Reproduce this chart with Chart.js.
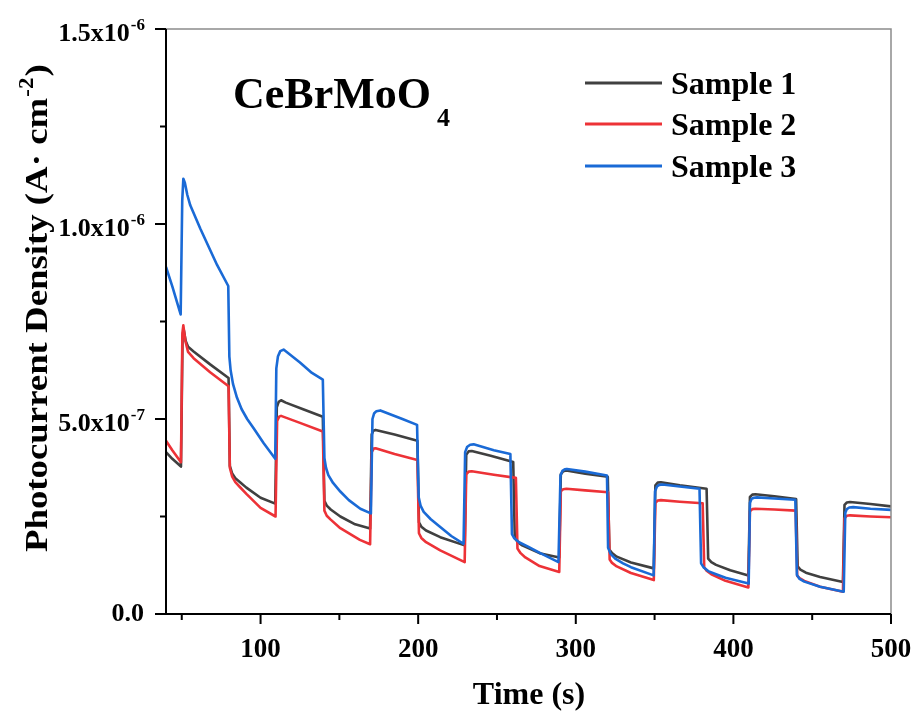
<!DOCTYPE html>
<html>
<head>
<meta charset="utf-8">
<script src="https://cdn.jsdelivr.net/npm/chart.js@4.4.0/dist/chart.umd.min.js"></script>
<style>
  html, body { margin: 0; padding: 0; background: #fff; }
  #wrap { position: relative; width: 916px; height: 715px; }
</style>
</head>
<body>
<div id="wrap"><canvas id="chart"></canvas></div>
<script>
// ======================================================
// CeBrMoO4 photocurrent response, three samples
// values: [time (s), current density in 1e-7 A·cm^-2]
// ======================================================
const sample1 = [
  [40,4.15],[44,3.98],[49.5,3.78],[50.5,7.1],[51.2,7.3],[52.5,7.0],[54,6.85],[57.5,6.73],[68,6.4],[79.7,6.05],
  [80.5,3.8],[82,3.6],[84,3.48],[87,3.38],[91,3.24],[100,2.98],[109.3,2.83],
  [110.3,5.3],[111.5,5.44],[113,5.48],[116,5.42],[127,5.25],[139.5,5.06],
  [140.5,2.9],[142,2.78],[144.5,2.68],[150.6,2.5],[160,2.3],[169.5,2.19],
  [170.5,4.6],[171.5,4.7],[173,4.72],[185,4.6],[199.5,4.44],
  [200.5,2.35],[202,2.24],[205,2.14],[214,1.97],[229.5,1.76],
  [230.5,4.08],[232,4.17],[234,4.18],[246,4.06],[260.3,3.9],
  [261.3,1.95],[263,1.85],[266,1.76],[277,1.56],[289.5,1.45],
  [290.5,3.58],[292,3.66],[294,3.68],[306,3.6],[320.3,3.52],
  [321.3,1.65],[323,1.56],[326,1.47],[335,1.32],[349.5,1.17],
  [350.5,3.3],[352,3.37],[354,3.38],[366,3.3],[383,3.21],
  [384,1.42],[386,1.33],[389,1.26],[398,1.12],[409.5,0.99],
  [410.5,3.0],[412,3.06],[414,3.07],[426,3.02],[439.8,2.95],
  [440.8,1.22],[442.5,1.14],[446,1.06],[455,0.95],[469.5,0.82],
  [470.5,2.8],[472,2.86],[474,2.87],[487,2.82],[500,2.76]
];
const sample2 = [
  [40,4.44],[44,4.2],[49.5,3.89],[50.4,7.2],[51,7.4],[52.3,7.0],[54,6.72],[57.5,6.56],[68,6.2],[79.7,5.84],
  [80.5,3.75],[82,3.52],[84,3.38],[87,3.25],[91,3.08],[100,2.72],[109.5,2.5],
  [110.5,4.95],[111.8,5.06],[113,5.08],[125,4.9],[139.5,4.68],
  [140.5,2.65],[142,2.52],[144.5,2.42],[150.6,2.2],[163,1.9],[169.5,1.79],
  [170.5,4.15],[171.8,4.24],[173,4.25],[185,4.1],[199.5,3.95],
  [200.5,2.07],[202,1.95],[205,1.84],[214,1.63],[229.5,1.33],
  [230.5,3.58],[232,3.65],[234,3.66],[248,3.57],[262,3.49],
  [263,1.68],[265,1.56],[268,1.45],[277,1.23],[289.5,1.08],
  [290.5,3.15],[292,3.2],[294,3.21],[306,3.17],[320.5,3.12],
  [321.5,1.4],[323,1.31],[326,1.22],[335,1.05],[349.5,0.87],
  [350.5,2.85],[352,2.91],[354,2.92],[366,2.88],[380.5,2.84],
  [381.5,1.2],[383,1.11],[386,1.02],[395,0.85],[409.5,0.68],
  [410.5,2.63],[412,2.69],[414,2.7],[426,2.68],[439.5,2.65],
  [440.5,0.98],[442,0.92],[445,0.85],[455,0.7],[469.5,0.57],
  [470.5,2.45],[472,2.52],[474,2.53],[487,2.5],[500,2.48]
];
const sample3 = [
  [40,8.9],[44,8.4],[49.3,7.68],[50.3,10.6],[51,11.16],[52,11.05],[53.5,10.75],[55.4,10.48],[61.8,9.88],[72.4,8.95],[79.5,8.41],
  [80.2,6.6],[81,6.25],[82.5,5.9],[85,5.55],[88,5.25],[91.5,5.0],[95.6,4.76],[102,4.38],[109.3,3.98],
  [110,6.3],[111,6.6],[112.5,6.74],[114.6,6.78],[125,6.45],[132.6,6.18],[139.5,6.01],
  [140.5,4.0],[141.5,3.75],[143,3.56],[146,3.36],[150.6,3.14],[156,2.92],[163.3,2.7],[170,2.58],
  [171,5.0],[172,5.14],[173.5,5.2],[176,5.22],[190,5.0],[199.3,4.85],
  [200.3,3.0],[201.5,2.78],[203.5,2.62],[208,2.43],[214,2.23],[221,2.0],[228.8,1.8],
  [229.8,4.15],[231,4.28],[233,4.34],[235.2,4.35],[248,4.2],[258.5,4.1],
  [259.5,2.05],[261,1.94],[264,1.84],[270,1.72],[277.5,1.56],[289,1.33],
  [290.3,3.55],[291.5,3.67],[293,3.71],[294.4,3.72],[306,3.65],[319.8,3.55],
  [320.5,1.7],[322,1.55],[325,1.42],[330,1.3],[335,1.2],[349.4,0.99],
  [350.3,3.15],[351.5,3.27],[353,3.31],[355,3.32],[366,3.27],[378.5,3.21],
  [379.5,1.3],[381,1.2],[384,1.1],[389,1.02],[395,0.93],[409.7,0.78],
  [410.5,2.85],[411.5,2.95],[413,2.98],[415,2.99],[426,2.96],[439.3,2.93],
  [440.3,1.0],[442,0.9],[445,0.83],[455,0.7],[470,0.57],
  [471,2.6],[472,2.69],[473.5,2.73],[476,2.74],[487,2.7],[500,2.67]
];

const seriesNames  = ["Sample 1", "Sample 2", "Sample 3"];
const seriesColors = ["#404040", "#ed3237", "#1a6ad6"];

const xMajorTicks = [100, 200, 300, 400, 500];
const xMinorTicks = [50, 150, 250, 350, 450];
const yMajorTicks = [0, 5e-7, 1e-6, 1.5e-6];
const yMinorTicks = [2.5e-7, 7.5e-7, 1.25e-6];
const yTickLabels = [["0.0", ""], ["5.0x10", "-7"], ["1.0x10", "-6"], ["1.5x10", "-6"]];

const SERIF = '"Liberation Serif", "Times New Roman", serif';

const toPoints = arr => arr.map(([t, v]) => ({ x: t, y: v * 1e-7 }));

// axes, ticks, labels, titles and legend drawn on top of the plot
const decorations = {
  id: "decorations",
  afterDraw(chart) {
    const { ctx, chartArea: a, scales: { x, y } } = chart;
    ctx.save();

    // thin grey top/right frame
    ctx.strokeStyle = "#8c8c8c";
    ctx.lineWidth = 1.5;
    ctx.beginPath();
    ctx.moveTo(a.left, a.top);
    ctx.lineTo(a.right, a.top);
    ctx.lineTo(a.right, a.bottom);
    ctx.stroke();

    // black left/bottom axes
    ctx.strokeStyle = "#000";
    ctx.lineWidth = 2;
    ctx.beginPath();
    ctx.moveTo(a.left, a.top);
    ctx.lineTo(a.left, a.bottom);
    ctx.lineTo(a.right, a.bottom);
    ctx.stroke();

    // x ticks
    ctx.beginPath();
    xMajorTicks.forEach(v => {
      const px = x.getPixelForValue(v);
      ctx.moveTo(px, a.bottom); ctx.lineTo(px, a.bottom + 10);
    });
    xMinorTicks.forEach(v => {
      const px = x.getPixelForValue(v);
      ctx.moveTo(px, a.bottom); ctx.lineTo(px, a.bottom + 6);
    });
    // y ticks
    yMajorTicks.forEach(v => {
      const py = y.getPixelForValue(v);
      ctx.moveTo(a.left, py); ctx.lineTo(a.left - 11, py);
    });
    yMinorTicks.forEach(v => {
      const py = y.getPixelForValue(v);
      ctx.moveTo(a.left, py); ctx.lineTo(a.left - 6, py);
    });
    ctx.stroke();

    ctx.fillStyle = "#000";
    ctx.textBaseline = "alphabetic";

    // x tick labels
    ctx.font = `bold 27px ${SERIF}`;
    ctx.textAlign = "center";
    xMajorTicks.forEach(v => {
      ctx.fillText(String(v), x.getPixelForValue(v), a.bottom + 43);
    });

    // y tick labels with superscript exponent
    yMajorTicks.forEach((v, i) => {
      const py = y.getPixelForValue(v);
      const [m, e] = yTickLabels[i];
      const right = a.left - 21;
      let ew = 0;
      if (e) {
        ctx.font = `bold 17px ${SERIF}`;
        ew = ctx.measureText(e).width;
        ctx.textAlign = "left";
        ctx.fillText(e, right - ew, py + 1);
      }
      ctx.font = `bold 26px ${SERIF}`;
      ctx.textAlign = "right";
      ctx.fillText(m, right - ew - 1, e ? py + 12 : py + 7);
    });

    // x title
    ctx.font = `bold 32px ${SERIF}`;
    ctx.textAlign = "center";
    ctx.fillText("Time (s)", 529, 704);

    // y title (rotated, with superscript)
    ctx.save();
    ctx.translate(47, 552);
    ctx.rotate(-Math.PI / 2);
    ctx.scale(1.15, 1);
    ctx.textAlign = "left";
    ctx.font = `bold 32px ${SERIF}`;
    const p1 = "Photocurrent Density (A\u00B7 cm";
    ctx.fillText(p1, 0, 0);
    let cx = ctx.measureText(p1).width;
    ctx.font = `bold 20px ${SERIF}`;
    ctx.fillText("-2", cx + 1, -14);
    cx += ctx.measureText("-2").width + 2;
    ctx.font = `bold 32px ${SERIF}`;
    ctx.fillText(")", cx, 0);
    ctx.restore();

    // chart label CeBrMoO4
    ctx.textAlign = "left";
    ctx.font = `bold 44px ${SERIF}`;
    ctx.fillText("CeBrMoO", 233, 108);
    const tw = ctx.measureText("CeBrMoO").width;
    ctx.font = `bold 26px ${SERIF}`;
    ctx.fillText("4", 233 + tw + 6, 126);

    // legend
    const legendLineY = [83, 124, 166];
    const legendTextY = [94, 135, 177];
    seriesNames.forEach((name, i) => {
      ctx.strokeStyle = seriesColors[i];
      ctx.lineWidth = 3;
      ctx.beginPath();
      ctx.moveTo(585, legendLineY[i]);
      ctx.lineTo(662, legendLineY[i]);
      ctx.stroke();
      ctx.font = `bold 32px ${SERIF}`;
      ctx.fillStyle = "#000";
      ctx.fillText(name, 671, legendTextY[i]);
    });

    ctx.restore();
  }
};

const allSamples = [sample1, sample2, sample3];
const drawOrder = [2, 1, 0];

new Chart(document.getElementById("chart"), {
  type: "line",
  data: {
    datasets: allSamples.map((s, i) => ({
      label: seriesNames[i],
      data: toPoints(s),
      borderColor: seriesColors[i],
      backgroundColor: seriesColors[i],
      borderWidth: 2.6,
      borderJoinStyle: "round",
      pointRadius: 0,
      fill: false,
      tension: 0,
      order: drawOrder[i]
    }))
  },
  options: {
    responsive: true,
    maintainAspectRatio: false,
    animation: false,
    events: [],
    layout: { padding: { left: 166, right: 25, top: 29, bottom: 101 } },
    plugins: { legend: { display: false }, tooltip: { enabled: false } },
    scales: {
      x: { type: "linear", min: 40, max: 500, display: false },
      y: { type: "linear", min: 0, max: 1.5e-6, display: false }
    }
  },
  plugins: [decorations]
});
</script>
</body>
</html>
